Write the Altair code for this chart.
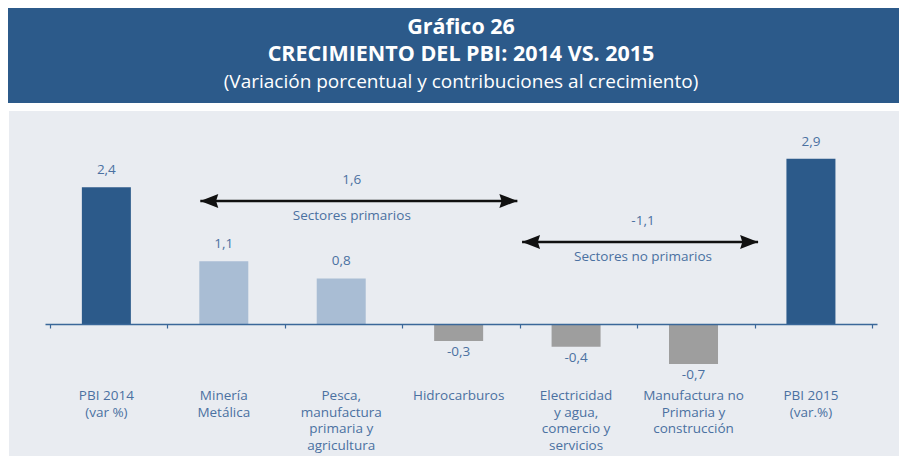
import altair as alt
import pandas as pd

# ---- data ----
categories = [
    "PBI 2014|(var %)",
    "Minería|Metálica",
    "Pesca,|manufactura|primaria y|agricultura",
    "Hidrocarburos",
    "Electricidad|y agua,|comercio y|servicios",
    "Manufactura no|Primaria y|construcción",
    "PBI 2015|(var.%)",
]
values = [2.4, 1.1, 0.8, -0.3, -0.4, -0.7, 2.9]
groups = ["total", "primario", "primario", "no primario", "no primario", "no primario", "total"]

group_names = ["Sectores primarios", "Sectores no primarios"]
group_values = [1.6, -1.1]

title_lines = ["Gráfico 26", "CRECIMIENTO DEL PBI: 2014 VS. 2015"]
subtitle = "(Variación porcentual y contribuciones al crecimiento)"

# ---- styles ----
BLUE = "#2c5a8a"
LIGHT = "#a9bdd4"
GRAY = "#9e9e9e"
PANEL = "#e9ecf1"
TXT = "#4b71a1"
AX = "#3a6799"
FONT = "Open Sans"

W, H = 832, 336
ydomain = [-2.3158, 3.5789]
yscale = alt.Scale(domain=ydomain, nice=False, zero=False)
n = len(categories)
xscale = alt.Scale(domain=[0, n], nice=False, zero=False)


def fmt(v):
    return f"{v:.1f}".replace(".", ",")


df = pd.DataFrame({"cat": categories, "value": values, "group": groups})
df["idx"] = range(n)
df["xc"] = df["idx"] + 0.48
df["label"] = df["value"].map(fmt)

# annotation arrows (positions along the category axis, in category units 0..n)
ann = pd.DataFrame({
    "name": group_names,
    "label": [fmt(v) for v in group_values],
    "start": [1.28, 4.02],
    "end": [3.98, 6.03],
    "mid": [2.57, 5.05],
    "level": [2.158, 1.439],
})

one = pd.DataFrame({"k": [0]})

header = alt.Chart(one).mark_rect(color=BLUE).encode(
    x=alt.value(-37), x2=alt.value(854), y=alt.value(-112), y2=alt.value(-17)
)
panel = alt.Chart(one).mark_rect(color=PANEL).encode(
    x=alt.value(-36), x2=alt.value(854), y=alt.value(-9), y2=alt.value(336)
)
t1 = alt.Chart(one).mark_text(font=FONT, fontSize=21.5, fontWeight="bold", color="white", baseline="middle").encode(
    x=alt.value(W / 2), y=alt.value(-92), text=alt.value(title_lines[0])
)
t2 = alt.Chart(one).mark_text(font=FONT, fontSize=21.5, fontWeight="bold", color="white", baseline="middle").encode(
    x=alt.value(W / 2), y=alt.value(-65), text=alt.value(title_lines[1])
)
t3 = alt.Chart(one).mark_text(font=FONT, fontSize=19, color="white", baseline="middle").encode(
    x=alt.value(W / 2), y=alt.value(-38), text=alt.value(subtitle)
)

xaxis = alt.Axis(
    title=None,
    values=list(range(n + 1)),
    labels=False,
    offset=-132,
    domainColor=AX,
    domainWidth=1.5,
    tickColor=AX,
    tickSize=4,
    tickWidth=1.2,
    grid=False,
    zindex=1,
)

base = alt.Chart(df)
bars = base.mark_bar(size=49).encode(
    x=alt.X("xc:Q", scale=xscale, axis=xaxis),
    y=alt.Y("value:Q", scale=yscale, axis=None),
    color=alt.Color(
        "group:N",
        scale=alt.Scale(domain=["total", "primario", "no primario"], range=[BLUE, LIGHT, GRAY]),
        legend=None,
    ),
)
cat_lab = base.mark_text(
    font=FONT, fontSize=13.5, color=TXT, baseline="top", lineBreak="|", lineHeight=16.5
).encode(x=alt.X("xc:Q", scale=xscale), y=alt.value(269), text="cat:N")
pos_lab = base.transform_filter("datum.value >= 0").mark_text(
    font=FONT, fontSize=13.5, color=TXT, baseline="bottom", dy=-10
).encode(x=alt.X("xc:Q", scale=xscale), y=alt.Y("value:Q", scale=yscale), text="label:N")
neg_lab = base.transform_filter("datum.value < 0").mark_text(
    font=FONT, fontSize=13.5, color=TXT, baseline="top", dy=4
).encode(x=alt.X("xc:Q", scale=xscale), y=alt.Y("value:Q", scale=yscale), text="label:N")

abase = alt.Chart(ann)
rule = abase.mark_rule(color="#111111", strokeWidth=2.5).encode(
    x=alt.X("start:Q", scale=xscale),
    x2="end:Q",
    y=alt.Y("level:Q", scale=yscale),
)
left_head = abase.mark_point(
    shape="M0,0 L2,-0.78 L1.75,0 L2,0.78 Z", size=324, filled=True, color="#111111", opacity=1
).encode(x=alt.X("start:Q", scale=xscale), y=alt.Y("level:Q", scale=yscale))
right_head = abase.mark_point(
    shape="M0,0 L-2,-0.78 L-1.75,0 L-2,0.78 Z", size=324, filled=True, color="#111111", opacity=1
).encode(x=alt.X("end:Q", scale=xscale), y=alt.Y("level:Q", scale=yscale))
val_txt = abase.mark_text(font=FONT, fontSize=13.5, color=TXT, baseline="middle", dy=-21).encode(
    x=alt.X("mid:Q", scale=xscale), y=alt.Y("level:Q", scale=yscale), text="label:N"
)
name_txt = abase.mark_text(font=FONT, fontSize=13.5, color=TXT, baseline="middle", dy=15).encode(
    x=alt.X("mid:Q", scale=xscale), y=alt.Y("level:Q", scale=yscale), text="name:N"
)

chart = (
    alt.layer(header, panel, t1, t2, t3, bars, cat_lab, pos_lab, neg_lab, rule, left_head, right_head, val_txt, name_txt)
    .properties(
        width=W,
        height=H,
        padding={"left": 37, "top": 112, "right": 22, "bottom": 0},
        autosize="none",
        background="white",
    )
    .configure_view(stroke=None)
)

chart.save("out.html", embed_options={"renderer": "svg", "actions": False})
